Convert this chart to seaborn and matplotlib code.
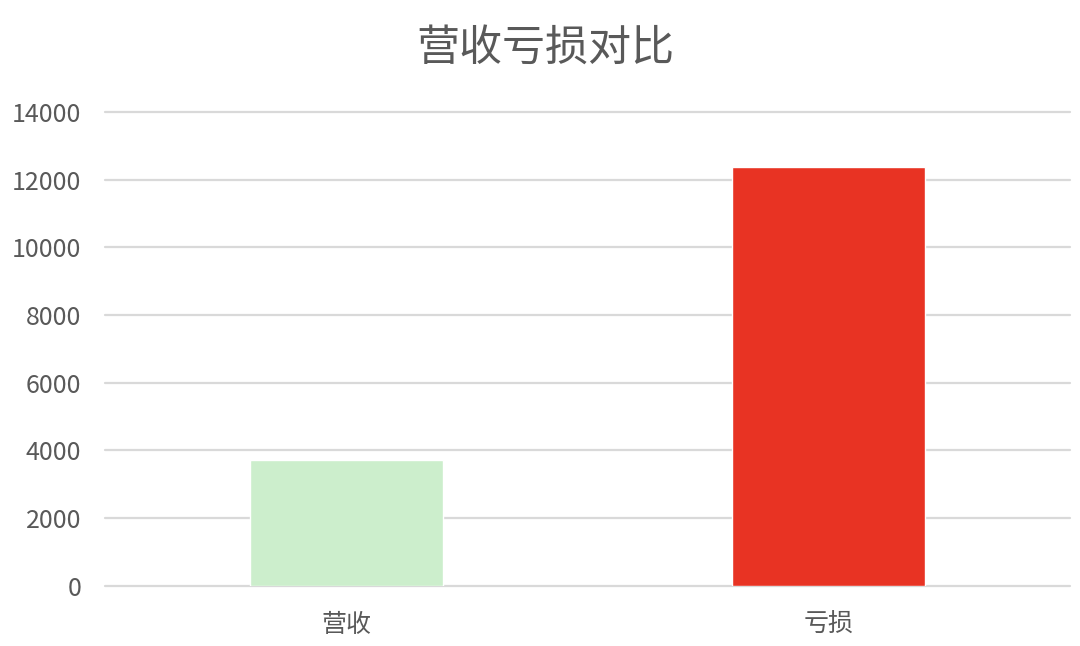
import matplotlib
matplotlib.use("Agg")
import matplotlib.pyplot as plt
import seaborn as sns
import pandas as pd

# 数据
categories = ["营收", "亏损"]
values = [3720, 12375]
bar_colors = ["#CCEECC", "#E83323"]
y_ticks = [0, 2000, 4000, 6000, 8000, 10000, 12000, 14000]

sns.set_style("white")
plt.rcParams['font.family'] = ['Noto Sans CJK SC', 'DejaVu Sans']

df = pd.DataFrame({"类别": categories, "金额": values})

fig = plt.figure(figsize=(10.8, 6.46), dpi=100)
ax = fig.add_axes([0.0972, 0.0933, 0.8935, 0.7333])

sns.barplot(data=df, x="类别", y="金额", hue="类别", palette=bar_colors,
            width=0.4, legend=False, ax=ax, zorder=3, saturation=1)

ax.set_ylim(0, 14000)
ax.set_yticks(y_ticks)
ax.set_xlim(-0.5, 1.5)
ax.yaxis.grid(True, color="#D9D9D9", linewidth=1.6, zorder=0)
ax.set_axisbelow(True)
for gl in ax.get_ygridlines():
    gl.set_clip_on(False)
for s in ax.spines.values():
    s.set_visible(False)
ax.tick_params(axis="y", length=0, labelsize=18, labelcolor="#595959", pad=17)
ax.tick_params(axis="x", length=0, labelsize=18, labelcolor="#595959", pad=19)
ax.set_xlabel("")
ax.set_ylabel("")

fig.text(0.505, 0.925, "营收亏损对比", ha="center", va="center",
         fontsize=31, color="#595959")

fig.savefig("out.png", dpi=100)
